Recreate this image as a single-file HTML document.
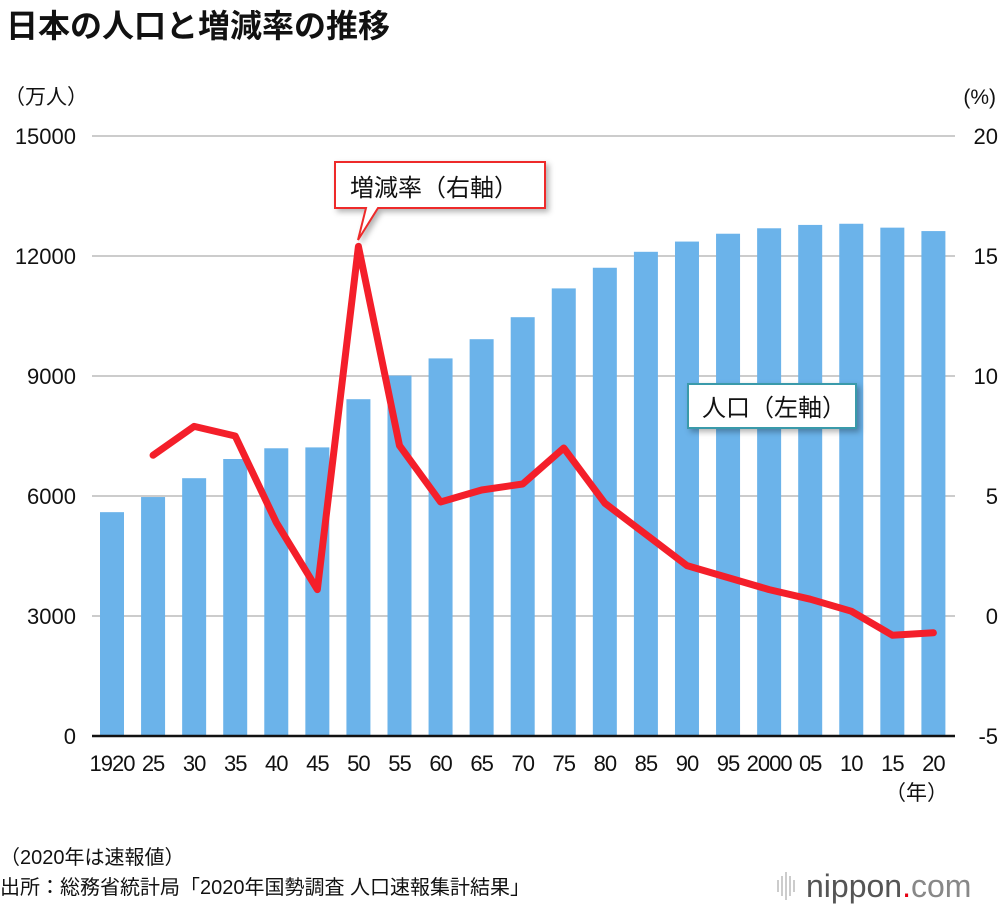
<!DOCTYPE html>
<html><head><meta charset="utf-8">
<style>
body{margin:0;background:#fff;width:1000px;height:910px;overflow:hidden;font-family:"Liberation Sans","Noto Sans CJK JP",sans-serif;}
svg text{font-family:"Liberation Sans","Noto Sans CJK JP",sans-serif;}
</style></head>
<body>
<svg id="c" width="1000" height="910">
<text x="6" y="37" font-size="32" font-weight="bold" fill="#111">日本の人口と増減率の推移</text>
<text x="4" y="104" font-size="21" fill="#111">（万人）</text>
<text x="996" y="104" font-size="21" fill="#111" text-anchor="end">(%)</text>
<g id="grid"></g><g id="bars"></g><g id="line"></g><g id="ticks"></g>
<line x1="92" x2="955" y1="736" y2="736" stroke="#111" stroke-width="2.5"/>
<g>
<path d="M335,162 H545 V208 H378 L358,240 L366,208 H335 Z" fill="#fff" stroke="#ee2a2a" stroke-width="2" style="filter:drop-shadow(3px 3px 3px rgba(0,0,0,0.3))"/>
<text x="350" y="196" font-size="24" fill="#111">増減率（右軸）</text>
</g>
<g>
<rect x="688" y="384" width="168" height="44" fill="#fff" stroke="#3a9aaa" stroke-width="2" style="filter:drop-shadow(3px 3px 3px rgba(0,0,0,0.3))"/>
<text x="702" y="416" font-size="24" fill="#111">人口（左軸）</text>
</g>
<text x="948" y="800" font-size="21" fill="#111" text-anchor="end">（年）</text>
<text x="0" y="864" font-size="20" fill="#111">（2020年は速報値）</text>
<text x="0" y="894" font-size="20" fill="#111">出所：総務省統計局「2020年国勢調査 人口速報集計結果」</text>
<g>
<g stroke="#bbb" stroke-width="1.5"><line x1="778" y1="880" x2="778" y2="892"/><line x1="782" y1="876" x2="782" y2="896"/><line x1="786" y1="872" x2="786" y2="900"/><line x1="790" y1="876" x2="790" y2="896"/><line x1="794" y1="880" x2="794" y2="892"/></g>
<text x="806" y="897" font-size="32" fill="#555">nippon<tspan fill="#e60012">.</tspan><tspan fill="#888">com</tspan></text>
</g>
</svg>
<script>
const years=["1920","25","30","35","40","45","50","55","60","65","70","75","80","85","90","95","2000","05","10","15","20"];
const population=[5596,5974,6445,6925,7193,7215,8420,9010,9440,9920,10470,11190,11706,12105,12361,12557,12693,12777,12806,12709,12623];
const rate=[null,6.7,7.9,7.5,3.9,1.1,15.4,7.1,4.75,5.25,5.5,7.0,4.7,3.4,2.1,1.6,1.1,0.7,0.2,-0.8,-0.7];
const leftTicks=[0,3000,6000,9000,12000,15000];
const rightTicks=[-5,0,5,10,15,20];
const NS="http://www.w3.org/2000/svg";
const yL=v=>736-v*0.04, yR=v=>736-(v+5)*24, xC=i=>112+41.07*i;
function mk(t,a,p){const e=document.createElementNS(NS,t);for(const k in a)e.setAttribute(k,a[k]);p.appendChild(e);return e;}
const grid=document.getElementById('grid'),bars=document.getElementById('bars'),line=document.getElementById('line'),ticks=document.getElementById('ticks');
leftTicks.forEach((v,i)=>{
 if(v>0){const g=mk('line',{x1:92,x2:955,y1:yL(v),y2:yL(v),stroke:'#ccc','stroke-width':2},grid);
 
 }
 const t=mk('text',{x:76,y:yL(v)+8,'font-size':22,'text-anchor':'end',fill:'#111'},ticks);t.textContent=v;
 
 
});
rightTicks.forEach(v=>{
 const t=mk('text',{x:998,y:yR(v)+8,'font-size':22,'text-anchor':'end',fill:'#111'},ticks);t.textContent=v;
 
 
});
population.forEach((v,i)=>{
 const b=mk('rect',{x:xC(i)-12,y:yL(v),width:24,height:736-yL(v),fill:'#6bb3ea'},bars);
 
 
});
years.forEach((y,i)=>{
 const t=mk('text',{x:xC(i),y:771,'font-size':22,'text-anchor':'middle',fill:'#111','letter-spacing':'-1'},ticks);t.textContent=y;
 
 
});
let d='';rate.forEach((v,i)=>{if(v===null)return;d+=(d?'L':'M')+xC(i)+','+yR(v);});
const p=mk('path',{d:d,fill:'none',stroke:'#f41f2a','stroke-width':7,'stroke-linejoin':'round','stroke-linecap':'round'},line);


</script>
</body></html>
